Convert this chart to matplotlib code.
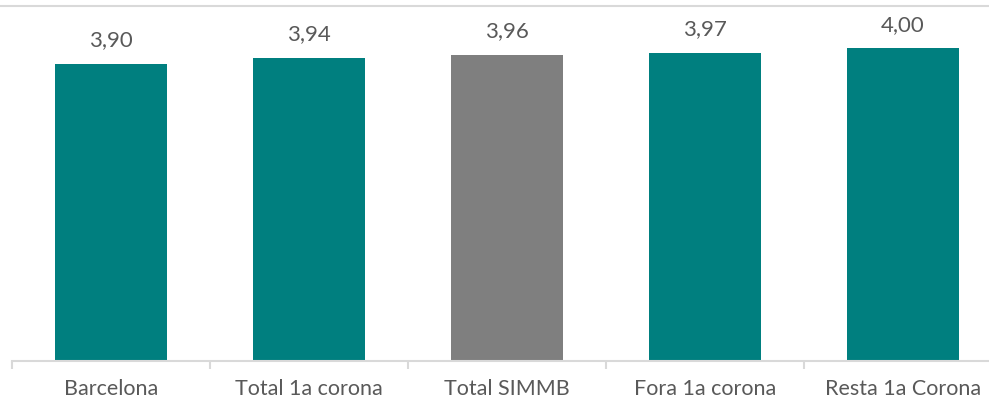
import matplotlib.pyplot as plt
import numpy as np

categories = ["Barcelona", "Total 1a corona", "Total SIMMB", "Fora 1a corona", "Resta 1a Corona"]
values = [3.90, 3.94, 3.96, 3.97, 4.00]
colors = ["#007f7f", "#007f7f", "#7f7f7f", "#007f7f", "#007f7f"]

plt.rcParams['font.family'] = ['Lato', 'DejaVu Sans']

fig = plt.figure(figsize=(9.89, 4), dpi=100)
# axes runs a bit past the right edge, as in the original
ax = fig.add_axes([12 / 989, 39 / 400, 990 / 989, 355 / 400])

x = np.arange(len(categories))
bars = ax.bar(x, values, width=0.57, color=colors, zorder=2)

ax.set_xlim(-0.5, len(categories) - 0.5)
ax.set_ylim(2.0, 2.0 + 355 / 156.3)

for b, v in zip(bars, values):
    ax.annotate(("%.2f" % v).replace(".", ","), (b.get_x() + b.get_width() / 2, v),
                xytext=(0, 17), textcoords="offset points", ha="center", va="center",
                fontsize=16, color="#595959")

for s in ["left", "right", "top"]:
    ax.spines[s].set_visible(False)
ax.spines["bottom"].set_color("#d9d9d9")
ax.spines["bottom"].set_linewidth(1.5)

ax.set_yticks([])
ax.set_xticks(x)
ax.set_xticklabels(categories, fontsize=15.5, color="#595959")
ax.tick_params(axis="x", length=0, pad=13)
ax.set_xticks(np.arange(len(categories) + 1) - 0.5, minor=True)
ax.tick_params(axis="x", which="minor", length=6, color="#d9d9d9", width=1.5)

# top border line
fig.add_artist(plt.Line2D([0, 1], [1 - 6 / 400, 1 - 6 / 400], color="#d9d9d9", lw=1.5))

fig.savefig("out.png", dpi=100)
